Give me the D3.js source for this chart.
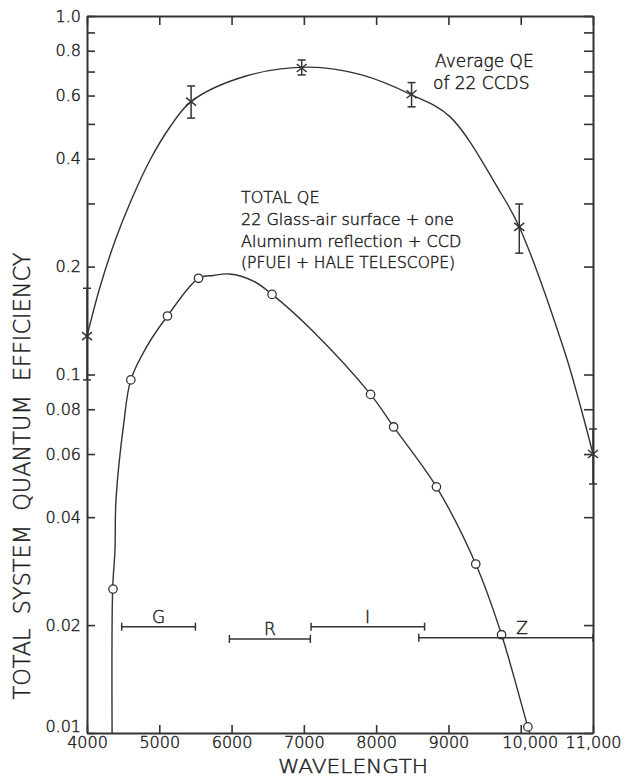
<!DOCTYPE html>
<html>
<head>
<meta charset="utf-8">
<script src="https://cdn.jsdelivr.net/npm/d3@7"></script>
<style>
  body { margin:0; background:#fff; }
  text { font-family:"DejaVu Sans", sans-serif; font-weight:200; fill:#222; stroke:#222; stroke-width:0.45px; }
</style>
</head>
<body>
<svg></svg>
<script>
// average QE of 22 CCDs (x marks with error bars)
var avgLambda = [4000, 5440, 6970, 8490, 9980, 11000];
var avgQE     = [0.128, 0.577, 0.716, 0.605, 0.258, 0.060];
var avgHi     = [0.174, 0.638, 0.754, 0.652, 0.299, 0.0705];
var avgLo     = [0.0966, 0.519, 0.685, 0.558, 0.218, 0.0495];

// hand drawn curve through the average points
var avgCurveLambda = [4000, 4180, 4387, 4595, 4872, 5148, 5440, 6200, 7070, 7800, 8490, 9020, 9700, 9980, 10600, 10830, 11000];
var avgCurveQE     = [0.128, 0.1754, 0.2357, 0.3009, 0.3966, 0.4902, 0.577, 0.68, 0.72, 0.685, 0.603, 0.524, 0.327, 0.258, 0.117, 0.081, 0.060];

// total QE (open circles)
var totLambda = [4360, 4606, 5113, 5543, 6560, 7923, 8242, 8834, 9378, 9735, 10099];
var totQE     = [0.0252, 0.0966, 0.1456, 0.1855, 0.1673, 0.088, 0.0714, 0.0486, 0.0296, 0.0188, 0.0104];

var totCurveLambda = [4347, 4355, 4387, 4401, 4512, 4606, 4826, 5113, 5543, 5750, 5968, 6300, 6560, 7077, 7923, 8242, 8834, 9378, 9735, 10099, 10127];
var totCurveQE     = [0.010, 0.0252, 0.0324, 0.0447, 0.074, 0.0966, 0.1196, 0.1456, 0.1855, 0.1889, 0.1907, 0.1823, 0.1673, 0.135, 0.088, 0.0714, 0.0486, 0.0296, 0.0188, 0.0104, 0.010];

// filter bands
var bandNames  = ["G", "R", "I", "Z"];
var bandStart  = [4480, 5970, 7100, 8590];
var bandEnd    = [5500, 7090, 8670, 11000];
var bandLevel  = [0.0198, 0.0183, 0.0198, 0.01845];
var bandLabelAt = [4990, 6530, 7880, 10020];

// axes
var xTicks = [4000, 5000, 6000, 7000, 8000, 9000, 10000, 11000];
var yTicks = [1.0, 0.9, 0.8, 0.7, 0.6, 0.5, 0.4, 0.3, 0.2, 0.1, 0.08, 0.06, 0.04, 0.02, 0.01];
var yLabels = ["1.0", "", "0.8", "", "0.6", "", "0.4", "", "0.2", "0.1", "0.08", "0.06", "0.04", "0.02", "0.01"];

var ink = "#333";
var screen = {width:625, height:777};
var svg = d3.select("svg")
            .attr("width", screen.width)
            .attr("height", screen.height);

var x = d3.scaleLinear().domain([4000, 11000]).range([87, 593]);
var y = d3.scaleLog().domain([0.01, 1]).range([733, 16]);

var fixAxis = function(g)
{
  g.select(".domain").attr("stroke", ink).attr("stroke-width", 2);
  g.selectAll(".tick line").attr("stroke", ink).attr("stroke-width", 1.6);
  g.selectAll(".tick text").attr("fill", "#222")
   .style("font-family", "'DejaVu Sans', sans-serif")
   .style("font-weight", "200")
   .style("font-size", "16px");
};

// left
var left = svg.append("g")
   .attr("transform", "translate(" + x(4000) + ",0)")
   .call(d3.axisLeft(y).tickValues(yTicks).tickSizeInner(-8).tickSizeOuter(0).tickPadding(6)
         .tickFormat(function(d, i) { return yLabels[i]; }))
   .call(fixAxis);
left.selectAll(".tick text")
    .attr("dy", function(d) { return d == 0.01 ? "-0.1em" : "0.32em"; });

// right
svg.append("g")
   .attr("transform", "translate(" + x(11000) + ",0)")
   .call(d3.axisRight(y).tickValues(yTicks).tickSizeInner(-9).tickSizeOuter(0).tickFormat(""))
   .call(fixAxis);

// bottom
var bottom = svg.append("g")
   .attr("transform", "translate(0," + y(0.01) + ")")
   .call(d3.axisBottom(x).tickValues(xTicks).tickSizeInner(-8).tickSizeOuter(0).tickPadding(4)
         .tickFormat(function(d) { return d >= 10000 ? d3.format(",")(d) : d; }))
   .call(fixAxis);
bottom.selectAll(".tick text")
      .attr("dx", function(d) { return d == 10000 ? 9 : 0; });

// top
svg.append("g")
   .attr("transform", "translate(0," + y(1) + ")")
   .call(d3.axisTop(x).tickValues(xTicks).tickSizeInner(-9).tickSizeOuter(0).tickFormat(""))
   .call(fixAxis);

// curves
var line = d3.line()
             .x(function(d) { return x(d[0]); })
             .y(function(d) { return y(d[1]); })
             .curve(d3.curveCatmullRom.alpha(0.5));

svg.append("path")
   .attr("d", line(d3.zip(avgCurveLambda, avgCurveQE)))
   .attr("fill", "none").attr("stroke", ink).attr("stroke-width", 1.4);

svg.append("path")
   .attr("d", line(d3.zip(totCurveLambda, totCurveQE)))
   .attr("fill", "none").attr("stroke", ink).attr("stroke-width", 1.4);

// error bars + x marks
var avg = svg.append("g")
   .selectAll("g")
   .data(d3.range(avgLambda.length))
   .enter()
   .append("g")
   .attr("stroke", ink)
   .attr("stroke-width", 1.5);

avg.append("line")
   .attr("x1", function(i) { return x(avgLambda[i]); })
   .attr("x2", function(i) { return x(avgLambda[i]); })
   .attr("y1", function(i) { return y(avgHi[i]); })
   .attr("y2", function(i) { return y(avgLo[i]); });
avg.append("line")
   .attr("x1", function(i) { return x(avgLambda[i]) - 4; })
   .attr("x2", function(i) { return x(avgLambda[i]) + 4; })
   .attr("y1", function(i) { return y(avgHi[i]); })
   .attr("y2", function(i) { return y(avgHi[i]); });
avg.append("line")
   .attr("x1", function(i) { return x(avgLambda[i]) - 4; })
   .attr("x2", function(i) { return x(avgLambda[i]) + 4; })
   .attr("y1", function(i) { return y(avgLo[i]); })
   .attr("y2", function(i) { return y(avgLo[i]); });
avg.append("path")
   .attr("d", function(i)
   {
     var cx = x(avgLambda[i]), cy = y(avgQE[i]);
     return "M" + (cx - 5) + "," + (cy - 4) + "L" + (cx + 5) + "," + (cy + 4) +
            "M" + (cx - 5) + "," + (cy + 4) + "L" + (cx + 5) + "," + (cy - 4);
   });

// open circles
svg.append("g")
   .selectAll("circle")
   .data(d3.range(totLambda.length))
   .enter()
   .append("circle")
   .attr("cx", function(i) { return x(totLambda[i]); })
   .attr("cy", function(i) { return y(totQE[i]); })
   .attr("r", 4.2)
   .attr("fill", "#fff")
   .attr("stroke", ink)
   .attr("stroke-width", 1.3);

// filter bands
var bands = svg.append("g")
   .selectAll("g")
   .data(d3.range(bandNames.length))
   .enter()
   .append("g")
   .attr("stroke", ink)
   .attr("stroke-width", 1.5);

bands.append("line")
   .attr("x1", function(i) { return x(bandStart[i]); })
   .attr("x2", function(i) { return x(bandEnd[i]); })
   .attr("y1", function(i) { return y(bandLevel[i]); })
   .attr("y2", function(i) { return y(bandLevel[i]); });
bands.append("line")
   .attr("x1", function(i) { return x(bandStart[i]); })
   .attr("x2", function(i) { return x(bandStart[i]); })
   .attr("y1", function(i) { return y(bandLevel[i]) - 4; })
   .attr("y2", function(i) { return y(bandLevel[i]) + 4; });
bands.append("line")
   .attr("x1", function(i) { return x(bandEnd[i]); })
   .attr("x2", function(i) { return x(bandEnd[i]); })
   .attr("y1", function(i) { return y(bandLevel[i]) - 4; })
   .attr("y2", function(i) { return y(bandLevel[i]) + 4; });
bands.append("text")
   .attr("x", function(i) { return x(bandLabelAt[i]); })
   .attr("y", function(i) { return y(bandLevel[i]) - 4; })
   .attr("text-anchor", "middle")
   .style("stroke-width", "0.45px")
   .style("font-size", "17px")
   .text(function(i) { return bandNames[i]; });

// annotations
var note = svg.append("text").style("font-size", "17px");
note.append("tspan").attr("x", 435).attr("y", 67).text("Average QE");
note.append("tspan").attr("x", 433).attr("y", 89).text("of 22 CCDS");

var total = svg.append("text").style("font-size", "16px");
total.append("tspan").attr("x", 241).attr("y", 203).text("TOTAL QE");
total.append("tspan").attr("x", 241).attr("y", 225).text("22 Glass-air surface + one");
total.append("tspan").attr("x", 241).attr("y", 247).text("Aluminum reflection + CCD");
total.append("tspan").attr("x", 241).attr("y", 268)
     .attr("textLength", 214).attr("lengthAdjust", "spacingAndGlyphs")
     .text("(PFUEI + HALE TELESCOPE)");

// axis titles
svg.append("text")
   .attr("x", 353).attr("y", 773)
   .attr("text-anchor", "middle")
   .attr("textLength", 150)
   .attr("lengthAdjust", "spacingAndGlyphs")
   .style("font-size", "20px")
   .text("WAVELENGTH");

svg.append("text")
   .attr("transform", "translate(30,476) rotate(-90)")
   .attr("text-anchor", "middle")
   .attr("textLength", 447)
   .attr("lengthAdjust", "spacingAndGlyphs")
   .style("font-size", "23px")
   .style("white-space", "pre")
   .text("TOTAL  SYSTEM  QUANTUM  EFFICIENCY");
</script>
</body>
</html>
